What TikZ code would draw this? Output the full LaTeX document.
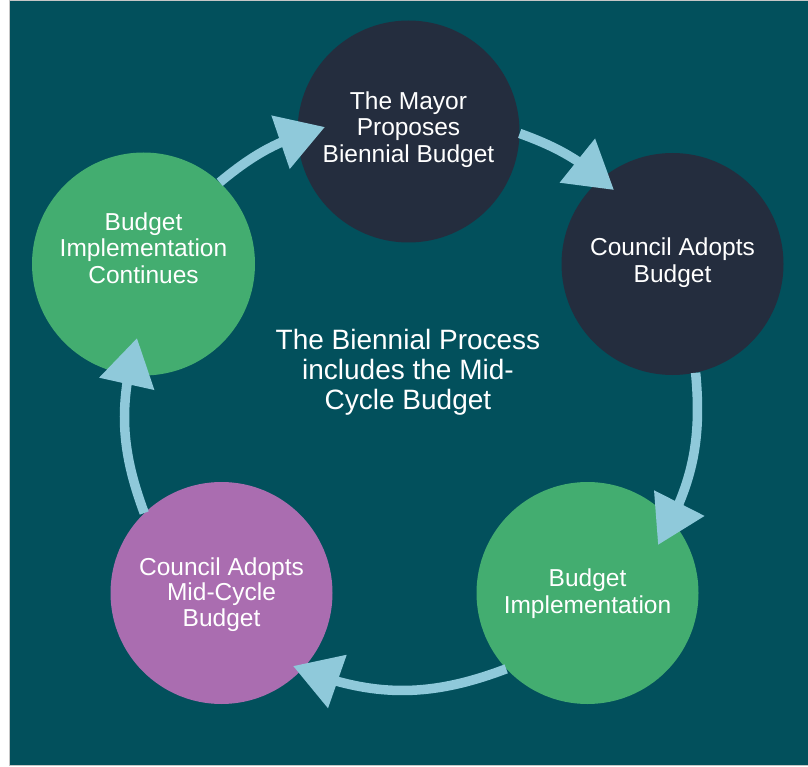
\documentclass[tikz,border=0pt]{standalone}
\usepackage{fontspec}
\setmainfont{Liberation Sans}
\usetikzlibrary{arrows.meta,bending}
\definecolor{bgteal}{HTML}{02505C}
\definecolor{navy}{HTML}{242D3E}
\definecolor{leaf}{HTML}{43AD70}
\definecolor{orchid}{HTML}{AA6DB0}
\definecolor{sky}{HTML}{8FC9DA}
\begin{document}
\begin{tikzpicture}[x=1pt,y=-1pt,
  stage/.style={circle,minimum size=222pt,inner sep=0pt},
  stagetext/.style={text=white,align=center,font=\fontsize{24.5}{26.7}\selectfont},
  flow/.style={draw=sky,line width=9.5pt,-{Triangle[width=54pt,length=47pt,flex]}}]
\useasboundingbox (0,0) rectangle (808,767);
\fill[white] (0,0) rectangle (808,767);
\filldraw[fill=bgteal,draw=gray!45,line width=0.8pt] (9.5,0.4) rectangle (808,765.6);
% stages
\node[stage,fill=navy] (M) at (408.5,131.5) {};
\node[stage,fill=navy] (C) at (672.5,264) {};
\node[stage,fill=leaf] (B) at (587.5,593) {};
\node[stage,fill=orchid] (P) at (221.5,593) {};
\node[stage,fill=leaf,minimum size=223pt] (L) at (143.5,264) {};
% arrow tips
\coordinate (t1) at (325,127);
\coordinate (t2) at (614,190);
\coordinate (t3) at (658,545);
\coordinate (t4) at (293,666);
\coordinate (t5) at (137,338);
\draw[flow] (L.47.9) to[bend left=12] (t1);
\draw[flow] (M.-1) to[bend left=11] (t2);
\draw[flow] (C.-78.4) to[bend left=17.7] (t3);
\draw[flow] (B.-137) to[bend left=21.6] (t4);
\draw[flow] (P.134.2) to[bend left=18.1] (t5);
% texts
\node[stagetext] (Mt) at ([yshift=2pt]M.center) {The Mayor\\Proposes\\Biennial Budget};
\node[stagetext] (Ct) at ([yshift=1pt]C.center) {Council Adopts\\Budget};
\node[stagetext] (Bt) at ([yshift=-1pt]B.center) {Budget\\Implementation};
\node[stagetext,font=\fontsize{24.5}{25.5}\selectfont] (Pt) at ([yshift=-1.5pt]P.center) {Council Adopts\\Mid-Cycle\\Budget};
\node[stagetext] (Lt) at ([yshift=16pt]L.center) {Budget\\Implementation\\Continues};
\node[text=white,align=center,font=\fontsize{28}{30}\selectfont] (mid) at (408,372.5) {The Biennial Process\\includes the Mid-\\Cycle Budget};
\end{tikzpicture}
\end{document}
